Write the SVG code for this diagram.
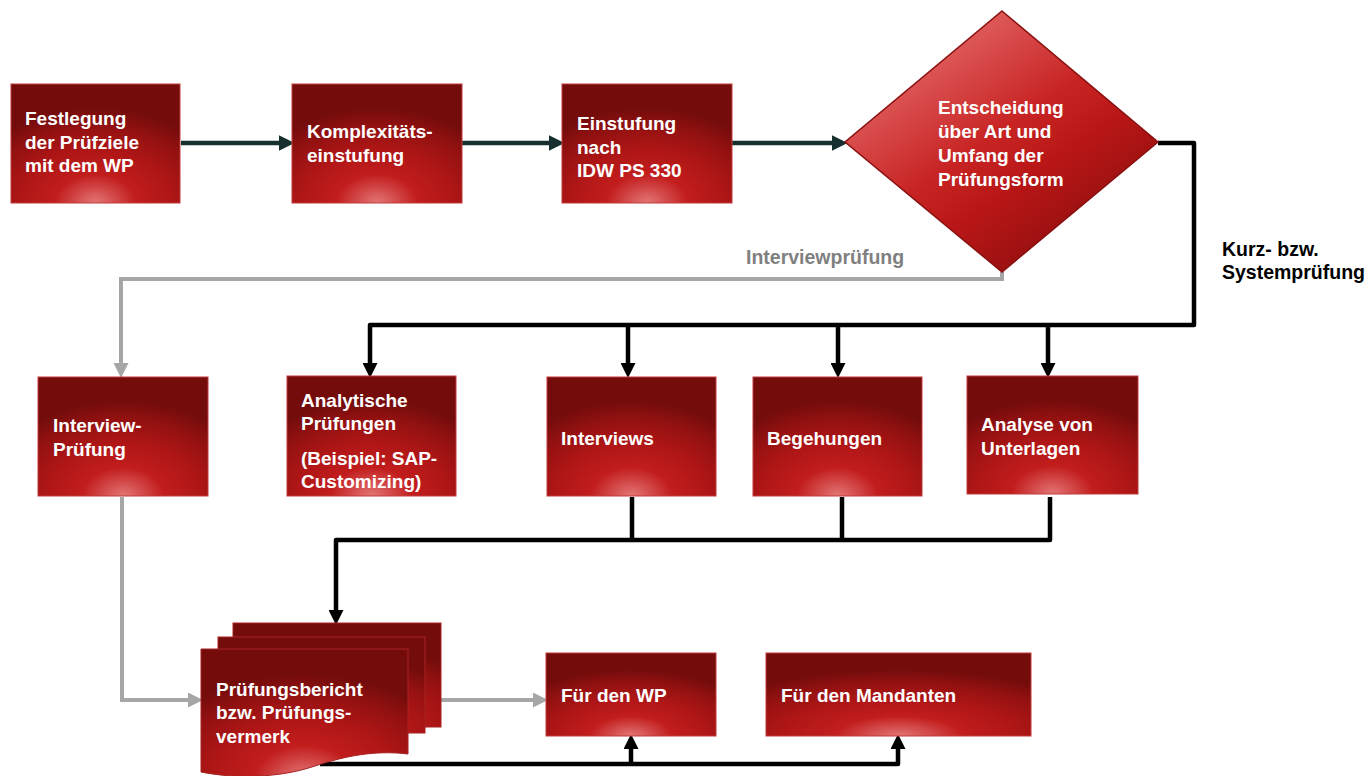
<svg xmlns="http://www.w3.org/2000/svg" width="1372" height="776" viewBox="0 0 1372 776">
<style>
.box{fill:url(#boxGrad);stroke:#c13a3a;stroke-width:1}
.sheet{fill:url(#boxGrad);stroke:#a82222;stroke-width:1}
.t{font-family:"Liberation Sans",Arial,sans-serif;font-weight:bold;font-size:19px;fill:#ffffff}
.lbl{font-family:"Liberation Sans",Arial,sans-serif;font-weight:bold;font-size:19.5px}
.dark{fill:none;stroke:#15302f;stroke-width:4.5}
.blk{fill:none;stroke:#000000;stroke-width:4.5;stroke-linejoin:round}
.gry{fill:none;stroke:#a6a6a6;stroke-width:4}
</style>
<defs>
<radialGradient id="boxGrad" cx="0.5" cy="1" r="0.8" fx="0.5" fy="1">
<stop offset="0" stop-color="#e47676"/>
<stop offset="0.3" stop-color="#c21d1d"/>
<stop offset="0.55" stop-color="#b01616"/>
<stop offset="0.8" stop-color="#941111"/>
<stop offset="1" stop-color="#740c0c"/>
</radialGradient>
<linearGradient id="diaGrad" x1="0.2" y1="0.1" x2="0.85" y2="0.9">
<stop offset="0" stop-color="#e56a6a"/>
<stop offset="0.45" stop-color="#c82424"/>
<stop offset="0.65" stop-color="#b81616"/>
<stop offset="1" stop-color="#8a0e0e"/>
</linearGradient>
<marker id="aDark" viewBox="0 0 10 10" refX="4" refY="5" markerWidth="16" markerHeight="16" markerUnits="userSpaceOnUse" orient="auto">
<path d="M0,0 L10,5 L0,10 z" fill="#15302f"/>
</marker>
<marker id="aBlk" viewBox="0 0 10 10" refX="4" refY="5" markerWidth="15" markerHeight="15" markerUnits="userSpaceOnUse" orient="auto">
<path d="M0,0 L10,5 L0,10 z" fill="#000000"/>
</marker>
<marker id="aGry" viewBox="0 0 10 10" refX="4" refY="5" markerWidth="15" markerHeight="15" markerUnits="userSpaceOnUse" orient="auto">
<path d="M0,0 L10,5 L0,10 z" fill="#a6a6a6"/>
</marker>
</defs>
<rect width="1372" height="776" fill="#ffffff"/>

<g id="connectors">
<path class="dark" d="M181,143 H285" marker-end="url(#aDark)"/>
<path class="dark" d="M462,143 H555" marker-end="url(#aDark)"/>
<path class="dark" d="M732,143 H838" marker-end="url(#aDark)"/>
<path class="blk" d="M1158,143 H1194 V325 H370 V369" marker-end="url(#aBlk)"/>
<path class="blk" d="M628,325 V369" marker-end="url(#aBlk)"/>
<path class="blk" d="M838,325 V369" marker-end="url(#aBlk)"/>
<path class="blk" d="M1048,325 V369" marker-end="url(#aBlk)"/>
<path class="gry" d="M1002,272 V279 H121 V369" marker-end="url(#aGry)"/>
<path class="blk" d="M632,497 V540"/>
<path class="blk" d="M842,497 V540"/>
<path class="blk" d="M1050,497 V540 H336 V616" marker-end="url(#aBlk)"/>
<path class="gry" d="M122,497 V700 H194" marker-end="url(#aGry)"/>
<path class="gry" d="M441,700 H539" marker-end="url(#aGry)"/>
<path class="blk" d="M320,764 H898 V743" marker-end="url(#aBlk)"/>
<path class="blk" d="M631,764 V743" marker-end="url(#aBlk)"/>
<text class="lbl" x="746" y="264" fill="#808080">Interviewprüfung</text>
<text class="lbl" x="1222" y="256" fill="#000000">Kurz- bzw.</text>
<text class="lbl" x="1222" y="279" fill="#000000">Systemprüfung</text>
</g>

<g id="n1">
<rect class="box" x="11" y="84" width="169" height="119"/>
<text class="t" x="25" y="125">Festlegung</text>
<text class="t" x="25" y="149">der Prüfziele</text>
<text class="t" x="25" y="172">mit dem WP</text>
</g>
<g id="n2">
<rect class="box" x="292" y="84" width="170" height="119"/>
<text class="t" x="307" y="138">Komplexitäts-</text>
<text class="t" x="307" y="162">einstufung</text>
</g>
<g id="n3">
<rect class="box" x="562" y="84" width="170" height="119"/>
<text class="t" x="577" y="130">Einstufung</text>
<text class="t" x="577" y="154">nach</text>
<text class="t" x="577" y="177">IDW PS 330</text>
</g>
<g id="n4">
<polygon points="1002,11 1158,142 1002,272 845,142" fill="url(#diaGrad)" stroke="#8a1010" stroke-width="1.5"/>
<text class="t" x="938" y="114">Entscheidung</text>
<text class="t" x="938" y="138">über Art und</text>
<text class="t" x="938" y="162">Umfang der</text>
<text class="t" x="938" y="186">Prüfungsform</text>
</g>
<g id="n5">
<rect class="box" x="38" y="377" width="170" height="119"/>
<text class="t" x="53" y="432">Interview-</text>
<text class="t" x="53" y="456">Prüfung</text>
</g>
<g id="n6">
<rect class="box" x="287" y="376" width="169" height="120"/>
<text class="t" x="301" y="407">Analytische</text>
<text class="t" x="301" y="430">Prüfungen</text>
<text class="t" x="301" y="465">(Beispiel: SAP-</text>
<text class="t" x="301" y="488">Customizing)</text>
</g>
<g id="n7">
<rect class="box" x="547" y="377" width="169" height="119"/>
<text class="t" x="561" y="445">Interviews</text>
</g>
<g id="n8">
<rect class="box" x="753" y="377" width="169" height="119"/>
<text class="t" x="767" y="445">Begehungen</text>
</g>
<g id="n9">
<rect class="box" x="967" y="376" width="171" height="118"/>
<text class="t" x="981" y="431">Analyse von</text>
<text class="t" x="981" y="455">Unterlagen</text>
</g>
<g id="n10">
<rect class="sheet" x="233" y="623" width="208" height="104"/>
<rect class="sheet" x="218" y="637" width="207" height="96"/>
<path class="sheet" d="M201,649 H408 V754 C375,750 345,756 315,766 C280,778 235,779 201,772 Z"/>
<text class="t" x="216" y="696">Prüfungsbericht</text>
<text class="t" x="216" y="719">bzw. Prüfungs-</text>
<text class="t" x="216" y="743">vermerk</text>
</g>
<g id="n11">
<rect class="box" x="546" y="653" width="170" height="83"/>
<text class="t" x="561" y="702">Für den WP</text>
</g>
<g id="n12">
<rect class="box" x="766" y="653" width="265" height="83"/>
<text class="t" x="781" y="702">Für den Mandanten</text>
</g>
</svg>
